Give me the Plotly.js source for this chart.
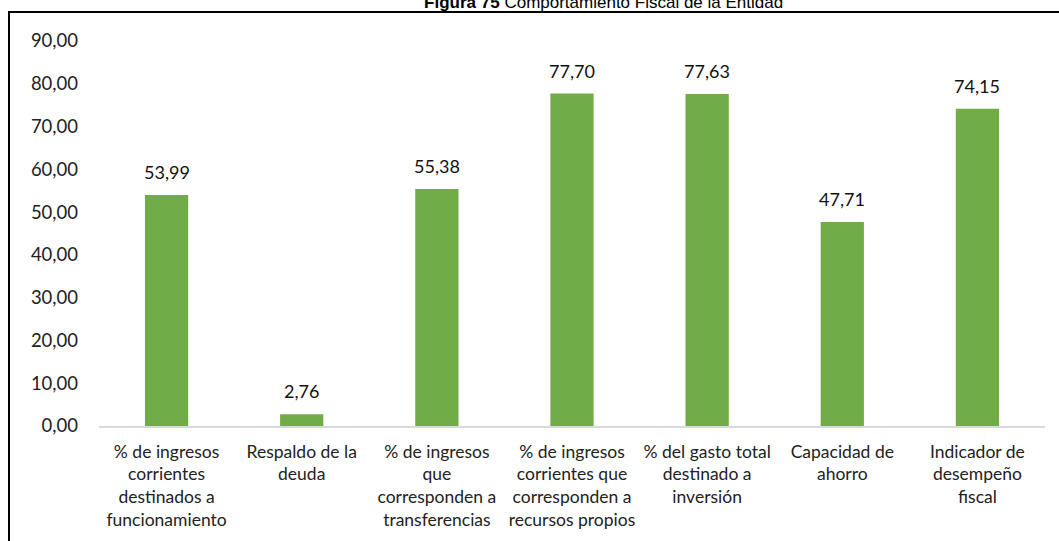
<!DOCTYPE html>
<html>
<head>
<meta charset="utf-8">
<script src="https://cdn.plot.ly/plotly-3.0.1.min.js"></script>
<style>
html,body{margin:0;padding:0;background:#fff;}
#chart{width:1059px;height:541px;position:relative;}
#frame{position:absolute;left:8px;top:11px;width:1100px;height:600px;border-left:2px solid #000;border-top:2px solid #000;pointer-events:none;}
</style>
</head>
<body>
<div id="chart"></div>
<div id="frame"></div>
<script>
const categories = [
  "% de ingresos<br>corrientes<br>destinados a<br>funcionamiento",
  "Respaldo de la<br>deuda",
  "% de ingresos<br>que<br>corresponden a<br>transferencias",
  "% de ingresos<br>corrientes que<br>corresponden a<br>recursos propios",
  "% del gasto total<br>destinado a<br>inversión",
  "Capacidad de<br>ahorro",
  "Indicador de<br>desempeño<br>fiscal"
];
const values = [53.99, 2.76, 55.38, 77.70, 77.63, 47.71, 74.15];
const tickValues = [0, 10, 20, 30, 40, 50, 60, 70, 80, 90];

const fontFam = "Lato, 'Open Sans', sans-serif";

const trace = {
  type: "bar",
  x: categories,
  y: values,
  marker: {color: "#70AD47"},
  hoverinfo: "none"
};

const annotations = categories.map((c, i) => ({
  x: c, y: values[i], xref: "x", yref: "y",
  text: values[i].toFixed(2).replace(".", ","),
  showarrow: false, yanchor: "bottom", yshift: 10,
  font: {family: fontFam, size: 18, color: "#111"}
}));

const layout = {
  width: 1059, height: 541,
  margin: {l: 99, r: 14, t: 41, b: 115},
  paper_bgcolor: "#fff", plot_bgcolor: "#fff",
  separators: ",.",
  bargap: 0.68,
  showlegend: false,
  title: {
    text: "<b>Figura 75</b> Comportamiento Fiscal de la Entidad",
    font: {family: "'Liberation Sans', Arial, sans-serif", size: 17, color: "#000"},
    x: 0.57, xanchor: "center", xref: "container",
    y: 0.997, yanchor: "middle", yref: "container"
  },
  xaxis: {
    showline: true, linecolor: "#D9D9D9", linewidth: 1.5,
    ticks: "", showgrid: false, zeroline: false,
    ticklabelstandoff: 9,
    tickfont: {family: fontFam, size: 17.5, color: "#222"}
  },
  yaxis: {
    range: [0, 90], tickvals: tickValues, tickformat: ".2f",
    showgrid: false, zeroline: false, showline: false, ticks: "",
    ticklabelstandoff: 20,
    tickfont: {family: fontFam, size: 18.5, color: "#222"}
  },
  annotations: annotations
};

Plotly.newPlot("chart", [trace], layout, {displayModeBar: false, staticPlot: true});
</script>
</body>
</html>
